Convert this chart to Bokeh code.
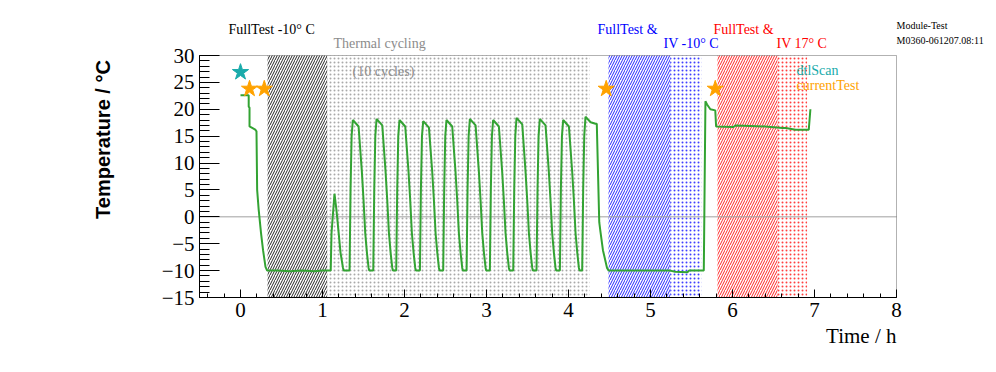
import math
from bokeh.plotting import figure
from bokeh.models import (Label, FixedTicker, Range1d, ColumnDataSource,
                          LinearAxis, BoxAnnotation)
from bokeh.embed import file_html
from bokeh.resources import INLINE

# ---------------- data ----------------
time_h = [
    0.00, 0.10, 0.10, 0.11, 0.11, 0.18, 0.195, 0.203, 0.222, 0.25, 0.275, 0.305, 0.325,
    0.45, 0.60, 0.75, 0.90, 1.00, 1.10,
    1.11, 1.146, 1.17, 1.197, 1.22, 1.25, 1.26,
    1.330, 1.342, 1.355, 1.370, 1.400, 1.440, 1.480, 1.501, 1.521, 1.542, 1.562, 1.570,
    1.619, 1.631, 1.644, 1.659, 1.689, 1.729, 1.769, 1.790, 1.810, 1.831, 1.851, 1.859,
    1.899, 1.911, 1.924, 1.939, 1.969, 2.009, 2.049, 2.070, 2.090, 2.111, 2.131, 2.139,
    2.188, 2.200, 2.213, 2.228, 2.258, 2.298, 2.338, 2.359, 2.379, 2.400, 2.420, 2.428,
    2.472, 2.484, 2.497, 2.512, 2.542, 2.582, 2.622, 2.643, 2.663, 2.684, 2.704, 2.712,
    2.757, 2.769, 2.782, 2.797, 2.827, 2.867, 2.907, 2.928, 2.948, 2.969, 2.989, 2.997,
    3.041, 3.053, 3.066, 3.081, 3.111, 3.151, 3.191, 3.212, 3.232, 3.253, 3.273, 3.281,
    3.326, 3.338, 3.351, 3.366, 3.396, 3.436, 3.476, 3.497, 3.517, 3.538, 3.558, 3.566,
    3.610, 3.622, 3.635, 3.650, 3.680, 3.720, 3.760, 3.781, 3.801, 3.822, 3.842, 3.850,
    3.895, 3.907, 3.920, 3.935, 3.965, 4.005, 4.045, 4.066, 4.086, 4.107, 4.127, 4.135,
    4.167, 4.179, 4.192, 4.207, 4.270, 4.330, 4.345, 4.375, 4.390, 4.420, 4.470, 4.490,
    4.70, 5.00, 5.24, 5.30, 5.45, 5.47, 5.65,
    5.67, 5.69, 5.73, 5.79, 5.80, 6.01, 6.04, 6.40, 6.61, 6.65, 6.77, 6.93, 6.95,
]
temp_c = [
    22.6, 22.6, 20.5, 20.3, 16.8, 16.2, 15.9, 5.0, 1.3, -3.0, -6.2, -9.3, -10.0,
    -10.0, -10.1, -10.0, -10.1, -10.0, -10.0,
    -3.0, 4.3, 1.3, -3.0, -6.7, -9.5, -10.0,
    -10.0, 5.0, 15.0, 18.0, 17.5, 16.8, 8.4, 3.0, -3.0, -6.7, -9.5, -10.0,
    -10.0, 5.0, 15.0, 18.2, 17.7, 17.0, 8.4, 3.0, -3.0, -6.7, -9.5, -10.0,
    -10.0, 5.0, 15.0, 18.0, 17.5, 16.8, 8.4, 3.0, -3.0, -6.7, -9.5, -10.0,
    -10.0, 5.0, 15.0, 17.8, 17.3, 16.6, 8.4, 3.0, -3.0, -6.7, -9.5, -10.0,
    -10.0, 5.0, 15.0, 18.0, 17.5, 16.8, 8.4, 3.0, -3.0, -6.7, -9.5, -10.0,
    -10.0, 5.0, 15.0, 18.2, 17.7, 17.0, 8.4, 3.0, -3.0, -6.7, -9.5, -10.0,
    -10.0, 5.0, 15.0, 18.0, 17.5, 16.8, 8.4, 3.0, -3.0, -6.7, -9.5, -10.0,
    -10.0, 5.0, 15.0, 18.4, 17.9, 17.2, 8.4, 3.0, -3.0, -6.7, -9.5, -10.0,
    -10.0, 5.0, 15.0, 18.2, 17.7, 17.0, 8.4, 3.0, -3.0, -6.7, -9.5, -10.0,
    -10.0, 5.0, 15.0, 18.0, 17.5, 16.8, 8.4, 3.0, -3.0, -6.7, -9.5, -10.0,
    -10.0, 5.0, 15.0, 18.6, 17.6, 17.3, 17.3, -1.0, -2.8, -6.2, -9.5, -10.0,
    -10.0, -10.0, -10.0, -10.2, -10.3, -10.0, -10.0,
    21.5, 20.9, 20.0, 19.8, 16.8, 16.7, 17.0, 16.8, 16.5, 16.5, 16.2, 16.2, 20.0,
]

# phase bands (hours)
band_start = [0.33, 1.057, 4.488, 5.24, 5.817, 6.55]
band_end = [1.057, 4.26, 5.24, 5.62, 6.55, 6.91]
band_color = ["black", "#8c8c8c", "#0000ff", "#0000ff", "#ff0000", "#ff0000"]
band_pattern = ["right_diagonal_line", "dot", "right_diagonal_line", "dot", "right_diagonal_line", "dot"]

# test markers
dtl_t = [0.0]
dtl_y = [26.9]
cur_t = [0.11, 0.29, 4.46, 5.79]
cur_y = [23.8, 23.8, 23.8, 23.8]

x_ticks = [0, 1, 2, 3, 4, 5, 6, 7, 8]
y_ticks = [-15, -10, -5, 0, 5, 10, 15, 20, 25, 30]
X_MIN, X_MAX = -0.5, 8.0
Y_MIN, Y_MAX = -15.0, 30.0

# ---------------- layout (pixels) ----------------
W, H = 990, 364
FRAME_L, FRAME_R, FRAME_T, FRAME_B = 199.0, 896.0, 55.0, 297.0
sx = (FRAME_R - FRAME_L) / (X_MAX - X_MIN)
sy = (FRAME_B - FRAME_T) / (Y_MAX - Y_MIN)
xr = Range1d(X_MIN - FRAME_L / sx, X_MAX + (W - FRAME_R) / sx)
yr = Range1d(Y_MIN - (H - FRAME_B) / sy, Y_MAX + FRAME_T / sy)


def dx(px):
    return X_MIN + (px - FRAME_L) / sx


def dy(py):
    return Y_MAX - (py - FRAME_T) / sy


p = figure(frame_width=W, frame_height=H, x_range=xr, y_range=yr,
           output_backend="svg", toolbar_location=None,
           x_axis_location=None, y_axis_location=None,
           min_border=0, min_border_left=0, min_border_right=0,
           min_border_top=0, min_border_bottom=0,
           background_fill_color="white", border_fill_color="white")
p.grid.visible = False
p.outline_line_color = None

SERIF = "Liberation Serif"

for s, e, c, pat in zip(band_start, band_end, band_color, band_pattern):
    is_dot = pat == "dot"
    p.quad(left=[s], right=[e], bottom=[Y_MIN], top=[Y_MAX],
           fill_alpha=0, line_alpha=0,
           hatch_pattern=pat, hatch_color=c,
           hatch_scale=4 if is_dot else 5, hatch_weight=1,
           hatch_alpha=0.75 if is_dot else 0.85)

# zero reference line across the frame
p.segment(x0=[X_MIN], x1=[X_MAX], y0=[0], y1=[0], line_color="#a0a0a0", line_width=1)

src = ColumnDataSource(dict(t=time_h, y=temp_c))
p.line("t", "y", source=src, line_color="#33a333", line_width=2)

p.scatter(dtl_t, dtl_y, marker="star", size=17, fill_color="#1aabab", line_color="#1aabab")
p.scatter(cur_t, cur_y, marker="star", size=17, fill_color="#ffa200", line_color="#ffa200")

# frame box
p.add_layout(BoxAnnotation(left=X_MIN, right=X_MAX, bottom=Y_MIN, top=Y_MAX,
                           fill_alpha=0, line_color="black", line_width=1))

# axes placed on the frame edges
xax = LinearAxis(fixed_location=Y_MIN, bounds=(X_MIN, X_MAX),
                 ticker=FixedTicker(ticks=x_ticks,
                                    minor_ticks=[i / 5 for i in range(-2, 41)]))
yax = LinearAxis(fixed_location=X_MIN, bounds=(Y_MIN, Y_MAX),
                 ticker=FixedTicker(ticks=y_ticks, minor_ticks=list(range(-15, 31))))
for ax in (xax, yax):
    ax.major_label_text_font = SERIF
    ax.major_label_text_font_size = "21px"
    ax.major_label_text_color = "black"
    ax.axis_line_color = "black"
    ax.major_tick_line_color = "black"
    ax.minor_tick_line_color = "black"
    ax.major_tick_out = 0
    ax.minor_tick_out = 0
xax.major_tick_in = 8
xax.minor_tick_in = 4
xax.major_label_standoff = 5
yax.major_tick_in = 20
yax.minor_tick_in = 10
yax.major_label_standoff = 5
p.add_layout(xax, "below")
p.add_layout(yax, "left")


def lab(X, Y, text, color="black", size="14px", font=SERIF, align="left",
        style="normal", angle=0.0, baseline="alphabetic"):
    p.add_layout(Label(x=dx(X), y=dy(Y), text=text, text_color=color,
                       text_font_size=size, text_font=font, text_align=align,
                       text_font_style=style, angle=angle, text_baseline=baseline))


lab(228, 28.5, "FullTest -10° C")
lab(333, 43, "Thermal cycling", color="#8c8c8c")
lab(352, 70.5, "(10 cycles)", color="#8c8c8c")
lab(597, 28.5, "FullTest &", color="#0000ff")
lab(663, 43, "IV -10° C", color="#0000ff")
lab(713, 28.5, "FullTest &", color="#ff0000")
lab(776, 43, "IV 17° C", color="#ff0000")
lab(896, 24.5, "Module-Test", size="10px")
lab(896, 39.5, "M0360-061207.08:11", size="10px")
lab(796, 69.5, "dtlScan", color="#1aabab")
lab(796, 85, "currentTest", color="#ffa200")
lab(896, 335.5, "Time / h", size="21px", align="right")
lab(102, 139, "Temperature / °C", size="20px", font="Liberation Sans",
    style="bold", align="center", angle=math.pi / 2)

open("out.html", "w").write(file_html(p, INLINE))
